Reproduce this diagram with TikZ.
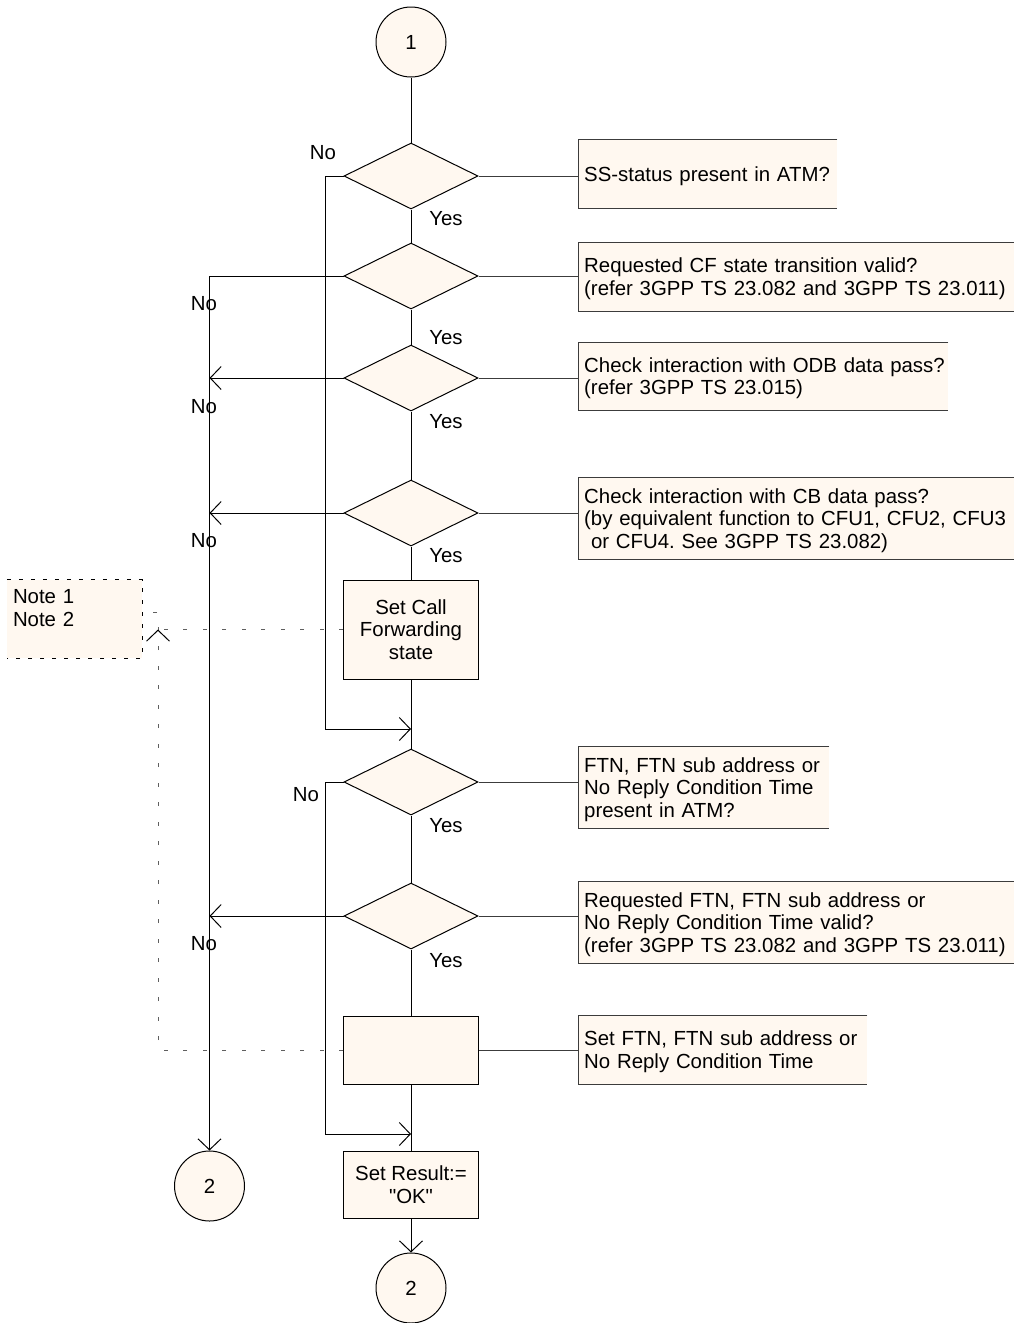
\documentclass[tikz,border=0pt]{standalone}
\usepackage{fontspec}
\setmainfont{Liberation Sans}[Ligatures=TeXOff]
\usetikzlibrary{shapes.geometric,arrows.meta,calc}
\definecolor{cream}{RGB}{255,248,240}
\definecolor{cmtgray}{RGB}{60,60,60}
\definecolor{dashgray}{RGB}{95,95,95}
\frenchspacing
% comment text: unbreakable left-aligned lines, nudged down a little
\newcommand\cmttext[1]{\begin{tabular}{@{}l@{}}\rule{0pt}{20.75pt}#1\end{tabular}}

\begin{document}
\begin{tikzpicture}[x=1pt,y=-1pt,
  every node/.style={font=\fontsize{20.4}{22.5}\selectfont},
  flow/.style={line width=1pt, black},
  arr/.style={flow, -{Straight Barb[length=11pt,width=23pt]}},
  decision/.style={diamond, draw, fill=cream, line width=1pt, minimum width=134pt,
    minimum height=66pt, inner sep=0pt, aspect=2},
  connector/.style={circle, draw, fill=cream, line width=1pt, minimum size=70pt, inner sep=0pt},
  taskbox/.style={rectangle, draw, fill=cream, line width=1pt, minimum width=135pt,
    align=center, inner sep=0pt},
  cmt/.style={rectangle, fill=cream, anchor=west, align=left, inner xsep=6pt, inner ysep=0pt},
  cmtline/.style={line width=1pt, cmtgray},
  lbl/.style={inner sep=0pt},
  notelink/.style={dashgray, line width=1pt, dash pattern=on 4pt off 15.5pt},
  noteframe/.style={black, line width=1pt, dash pattern=on 4pt off 8pt},
]
\useasboundingbox (0,0) rectangle (1014,1323);

% main column
\node[connector] (c1) at (411,42) {1};
\node[decision] (d1) at (411,176) {};
\node[decision] (d2) at (411,276) {};
\node[decision] (d3) at (411,378) {};
\node[decision] (d4) at (411,513) {};
\node[taskbox, minimum height=99pt] (b1) at (411,629.5) {Set Call\\Forwarding\\state};
\node[decision] (d5) at (411,782) {};
\node[decision] (d6) at (411,916) {};
\node[taskbox, minimum height=68pt] (b2) at (411,1050) {};
\node[taskbox, minimum height=67pt] (b3) at (411,1184.5) {Set Result:=\\"OK"};
\node[connector] (c2b) at (411,1288) {2};
\node[connector] (c2a) at (209.5,1186) {2};

% comments (open on the right side)
\node[cmt, minimum width=259pt, minimum height=68pt, text width=247pt] (k1) at (578,174)
  {\cmttext{SS-status present in ATM?}};
\node[cmt, minimum width=445pt, minimum height=68pt, text width=433pt] (k2) at (578,277)
  {\cmttext{Requested CF state transition valid?\\(refer 3GPP TS 23.082 and 3GPP TS 23.011)}};
\node[cmt, minimum width=370pt, minimum height=67pt, text width=358pt] (k3) at (578,376.5)
  {\cmttext{Check interaction with ODB data pass?\\(refer 3GPP TS 23.015)}};
\node[cmt, minimum width=445pt, minimum height=81pt, text width=433pt] (k4) at (578,518.5)
  {\cmttext{Check interaction with CB data pass?\\(by equivalent function to CFU1, CFU2, CFU3\\\ or CFU4. See 3GPP TS 23.082)}};
\node[cmt, minimum width=251pt, minimum height=81pt, text width=239pt] (k5) at (578,787.5)
  {\cmttext{FTN, FTN sub address or\\No Reply Condition Time\\present in ATM?}};
\node[cmt, minimum width=445pt, minimum height=81pt, text width=433pt] (k6) at (578,922.5)
  {\cmttext{Requested FTN, FTN sub address or\\No Reply Condition Time valid?\\(refer 3GPP TS 23.082 and 3GPP TS 23.011)}};
\node[cmt, minimum width=289pt, minimum height=68pt, text width=277pt] (k7) at (578,1050)
  {\cmttext{Set FTN, FTN sub address or\\No Reply Condition Time}};
\foreach \k in {k1,k2,k3,k4,k5,k6,k7}
  \draw[cmtline] (\k.north east) -- (\k.north west) -- (\k.south west) -- (\k.south east);

\draw[cmtline] (d1.east) -- (d1.east -| k1.west);
\draw[cmtline] (d2.east) -- (d2.east -| k2.west);
\draw[cmtline] (d3.east) -- (d3.east -| k3.west);
\draw[cmtline] (d4.east) -- (d4.east -| k4.west);
\draw[cmtline] (d5.east) -- (d5.east -| k5.west);
\draw[cmtline] (d6.east) -- (d6.east -| k6.west);
\draw[cmtline] (b2.east) -- (b2.east -| k7.west);

% note
\node[rectangle, fill=cream, minimum width=135pt, minimum height=78pt, text width=123pt,
  align=left, inner xsep=6pt, inner ysep=0pt] (note) at (74.5,619) {Note 1\\Note 2\\\mbox{}};
\draw[noteframe] (note.north west) -- (note.north east) -- (note.south east) -- (note.south west);

% main flow
\draw[flow] (c1.south) -- (d1.north);
\draw[flow] (d1.south) -- (d2.north);
\draw[flow] (d2.south) -- (d3.north);
\draw[flow] (d3.south) -- (d4.north);
\draw[flow] (d4.south) -- (b1.north);
\draw[flow] (b1.south) -- (d5.north);
\draw[flow] (d5.south) -- (d6.north);
\draw[flow] (d6.south) -- (b2.north);
\draw[flow] (b2.south) -- (b3.north);
\draw[arr] (b3.south) -- (c2b.north);

% "No" branches
\coordinate (bus1) at (325,729);
\coordinate (bus2) at (325,1134);
\draw[arr] (d1.west) -| (bus1) -- (bus1 -| d1.south);
\draw[arr] (d5.west) -| (bus2) -- (bus2 -| d5.south);
\draw[arr] (d2.west) -| (c2a.north);
\draw[arr] (d3.west) -- (d3.west -| c2a.north);
\draw[arr] (d4.west) -- (d4.west -| c2a.north);
\draw[arr] (d6.west) -- (d6.west -| c2a.north);

% labels
\node[lbl] (n1) at (323,153) {No};
\node[lbl] (n2) at (204,304) {No};
\node[lbl] (n3) at (204,407) {No};
\node[lbl] (n4) at (204,541) {No};
\node[lbl] (n5) at (306,795) {No};
\node[lbl] (n6) at (204,944) {No};
\node[lbl] (y1) at (446,219) {Yes};
\node[lbl] (y2) at (446,338) {Yes};
\node[lbl] (y3) at (446,422) {Yes};
\node[lbl] (y4) at (446,556) {Yes};
\node[lbl] (y5) at (446,826) {Yes};
\node[lbl] (y6) at (446,961) {Yes};

% note links
\coordinate (nx) at (158,612);
\draw[notelink] (b2.west) -| (nx) -- (nx -| note.east);
\draw[notelink] (b1.west) -- (b1.west -| nx);
\draw[black, line width=1pt, dash pattern=on 0pt off 50pt, -{Straight Barb[length=11pt,width=23pt]}]
  ($(b1.west -| nx)+(0,12)$) -- (b1.west -| nx);
\end{tikzpicture}
\end{document}
